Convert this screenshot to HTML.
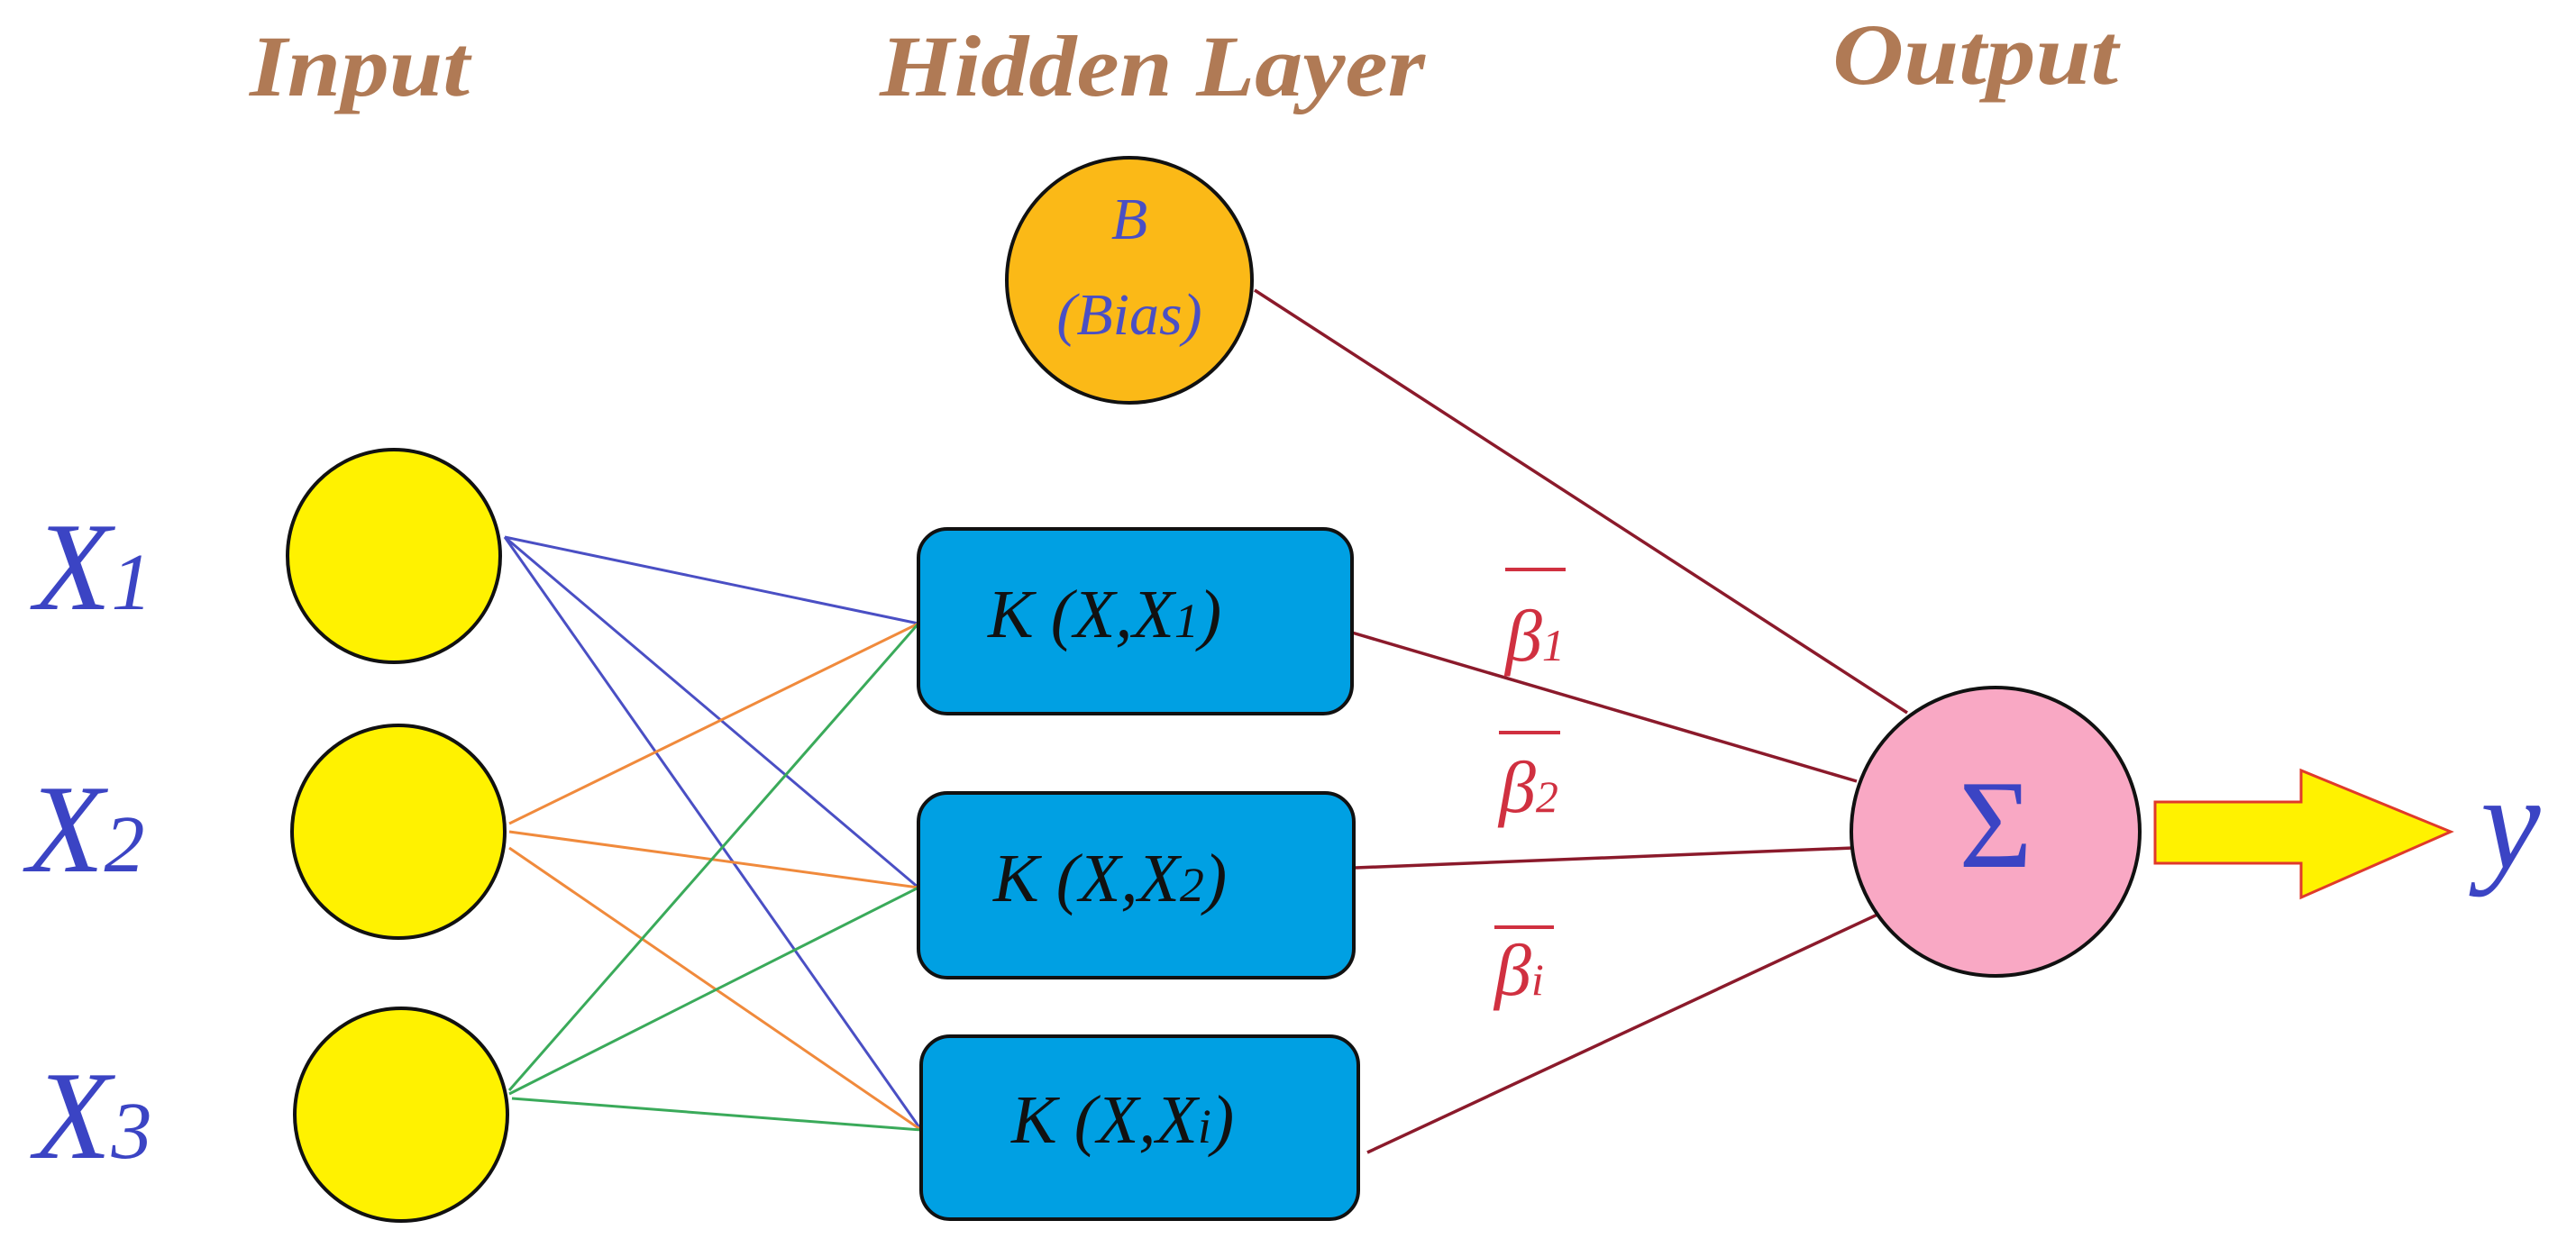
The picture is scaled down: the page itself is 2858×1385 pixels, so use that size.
<!DOCTYPE html>
<html><head><meta charset="utf-8"><style>html,body{margin:0;padding:0;background:#fff}svg{display:block}</style></head>
<body>
<svg width="2858" height="1385" viewBox="0 0 2858 1385" xmlns="http://www.w3.org/2000/svg" font-family="'Liberation Serif', serif" font-style="italic">
<rect width="2858" height="1385" fill="#fff"/>
<!-- titles -->
<g fill="#b07a55" font-size="96" font-weight="bold">
<text x="277" y="106" textLength="244" lengthAdjust="spacingAndGlyphs">Input</text>
<text x="976" y="106" textLength="605" lengthAdjust="spacingAndGlyphs">Hidden Layer</text>
<text x="2033" y="93" textLength="317" lengthAdjust="spacingAndGlyphs">Output</text>
</g>
<!-- input connections -->
<g stroke-width="3" fill="none">
<line x1="560" y1="596" x2="1019" y2="692" stroke="#4a4fc4"/>
<line x1="560" y1="596" x2="1019" y2="985" stroke="#4a4fc4"/>
<line x1="560" y1="596" x2="1022" y2="1254" stroke="#4a4fc4"/>
<line x1="565" y1="914" x2="1019" y2="692" stroke="#f08a3c"/>
<line x1="565" y1="923" x2="1019" y2="985" stroke="#f08a3c"/>
<line x1="565" y1="941" x2="1022" y2="1254" stroke="#f08a3c"/>
<line x1="565" y1="1210" x2="1019" y2="692" stroke="#3aaa5a"/>
<line x1="565" y1="1214" x2="1019" y2="985" stroke="#3aaa5a"/>
<line x1="568" y1="1219" x2="1022" y2="1254" stroke="#3aaa5a"/>
</g>
<!-- output connections -->
<g stroke="#8b1a2b" stroke-width="3.5">
<line x1="1392" y1="322" x2="2116" y2="791"/>
<line x1="1500" y1="702" x2="2060" y2="867"/>
<line x1="1504" y1="963" x2="2056" y2="941"/>
<line x1="1517" y1="1279" x2="2085" y2="1014"/>
</g>
<!-- input nodes -->
<g fill="#fff200" stroke="#111" stroke-width="4">
<circle cx="437" cy="617" r="118"/>
<circle cx="442" cy="923" r="118"/>
<circle cx="445" cy="1237" r="118"/>
</g>
<!-- bias -->
<circle cx="1253" cy="311" r="136" fill="#fbb917" stroke="#111" stroke-width="4"/>
<g fill="#4a4fc4" font-size="66" text-anchor="middle">
<text x="1253" y="265">B</text>
<text x="1253" y="371">(Bias)</text>
</g>
<!-- boxes -->
<g fill="#00a0e3" stroke="#111" stroke-width="4">
<rect x="1019" y="587" width="481" height="205" rx="32"/>
<rect x="1019" y="880" width="483" height="205" rx="32"/>
<rect x="1022" y="1150" width="485" height="203" rx="32"/>
</g>
<g fill="#111" font-size="76">
<text x="1096" y="707">K (X,X<tspan font-size="54">1</tspan>)</text>
<text x="1102" y="1000">K (X,X<tspan font-size="54">2</tspan>)</text>
<text x="1122" y="1268">K (X,X<tspan font-size="54">i</tspan>)</text>
</g>
<!-- X labels -->
<g fill="#3b44c4" font-size="140">
<text x="38" y="676">X<tspan font-size="90">1</tspan></text>
<text x="30" y="967">X<tspan font-size="90">2</tspan></text>
<text x="38" y="1285">X<tspan font-size="90">3</tspan></text>
</g>
<!-- betas -->
<g fill="#d03040" font-size="82">
<text x="1670" y="733">β<tspan font-size="50">1</tspan></text>
<text x="1663" y="901">β<tspan font-size="50">2</tspan></text>
<text x="1658" y="1104">β<tspan font-size="50">i</tspan></text>
</g>
<g stroke="#d03040" stroke-width="4">
<line x1="1670" y1="632" x2="1737" y2="632"/>
<line x1="1663" y1="813" x2="1731" y2="813"/>
<line x1="1658" y1="1029" x2="1724" y2="1029"/>
</g>
<!-- sigma -->
<circle cx="2214" cy="923" r="160" fill="#f9a8c4" stroke="#111" stroke-width="4"/>
<text x="2214" y="962" font-size="140" fill="#3b44c4" text-anchor="middle" font-style="normal">Σ</text>
<!-- arrow -->
<polygon points="2391,890 2553,890 2553,855 2719,923 2553,996 2553,958 2391,958" fill="#fff200" stroke="#e03a2a" stroke-width="3"/>
<text x="2752" y="963" font-size="150" fill="#3b44c4">y</text>
</svg>
</body></html>
